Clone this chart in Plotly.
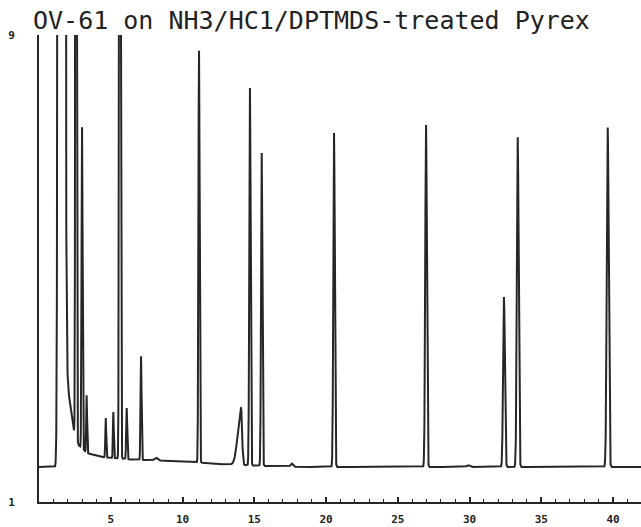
import numpy as np
import plotly.graph_objects as go

# ---- data ----
# peak retention times (min), apex signal values, peak widths (sigma, min)
peak_time = [1.57, 2.58, 3.00, 3.32, 4.65, 5.18, 5.64, 6.11, 7.11, 8.15,
             11.15, 14.70, 15.52, 17.61, 20.56, 26.97, 29.90, 32.40, 33.36, 39.63]
peak_apex = [1000, 40, 7.42, 2.83, 2.44, 2.54, 40, 2.61, 3.50, 1.76,
             8.74, 8.09, 6.98, 1.66, 7.32, 7.46, 1.63, 4.51, 7.25, 7.42]
peak_sigma = [0.095, 0.035, 0.035, 0.03, 0.03, 0.03, 0.04, 0.035, 0.035, 0.10,
              0.04, 0.045, 0.045, 0.08, 0.05, 0.055, 0.10, 0.06, 0.06, 0.065]

# fronting peak near 14 min
front_time = 14.08
front_apex = 2.61
front_sigma_left = 0.22
front_sigma_right = 0.07

# baseline (solvent tail): time (min), signal
base_time = [0.0, 1.40, 1.88, 2.04, 2.37, 2.72, 3.34, 3.76, 4.39, 6.34,
             8.43, 10.52, 12.61, 15.40, 18.19, 42.0]
base_level = [1.60, 1.60, 3.60, 2.92, 2.28, 1.98, 1.84, 1.81, 1.77, 1.73,
              1.71, 1.69, 1.65, 1.62, 1.60, 1.60]

x_ticks = [5, 10, 15, 20, 25, 30, 35, 40]
y_ticks = [1, 9]
title_text = "OV-61 on NH3/HC1/DPTMDS-treated Pyrex"

# ---- build trace ----
t = np.arange(0.0, 42.0, 0.004)
baseline = np.interp(t, base_time, base_level)
signal = baseline.copy()
for pt, pa, ps in zip(peak_time, peak_apex, peak_sigma):
    amp = pa - np.interp(pt, base_time, base_level)
    signal += amp * np.exp(-0.5 * ((t - pt) / ps) ** 2)
famp = front_apex - np.interp(front_time, base_time, base_level)
fs = np.where(t < front_time, front_sigma_left, front_sigma_right)
signal += famp * np.exp(-0.5 * ((t - front_time) / fs) ** 2)

fig = go.Figure()
fig.add_trace(go.Scatter(x=t, y=signal, mode="lines",
                         line=dict(color="#262626", width=2),
                         hoverinfo="skip", showlegend=False))

fig.update_layout(
    width=641, height=527,
    margin=dict(l=39, r=0, t=35, b=25),
    paper_bgcolor="white", plot_bgcolor="white",
    title=dict(text=title_text, xref="container", yref="container",
               x=33 / 641, xanchor="left", y=1 - 20 / 527, yanchor="middle",
               font=dict(family="DejaVu Sans Mono", size=25, color="#222222")),
)
fig.update_xaxes(
    range=[0, 41.95], showgrid=False, zeroline=False,
    showline=True, linecolor="#262626", linewidth=2,
    tickmode="array", tickvals=x_ticks, ticktext=[str(v) for v in x_ticks],
    ticks="inside", ticklen=5, tickwidth=1.5, tickcolor="#262626",
    minor=dict(dtick=1, tick0=0, ticks="inside", ticklen=3, tickwidth=1.2,
               tickcolor="#262626", showgrid=False),
    ticklabelstandoff=6,
    tickfont=dict(family="DejaVu Sans Mono", size=11, color="#222222", weight="bold"),
)
fig.update_yaxes(
    range=[1, 9], showgrid=False, zeroline=False,
    showline=True, linecolor="#262626", linewidth=2,
    tickmode="array", tickvals=y_ticks, ticktext=[str(v) for v in y_ticks],
    ticks="", ticklabelstandoff=20,
    tickfont=dict(family="DejaVu Sans Mono", size=11, color="#222222", weight="bold"),
)

fig.write_html("out.html")
